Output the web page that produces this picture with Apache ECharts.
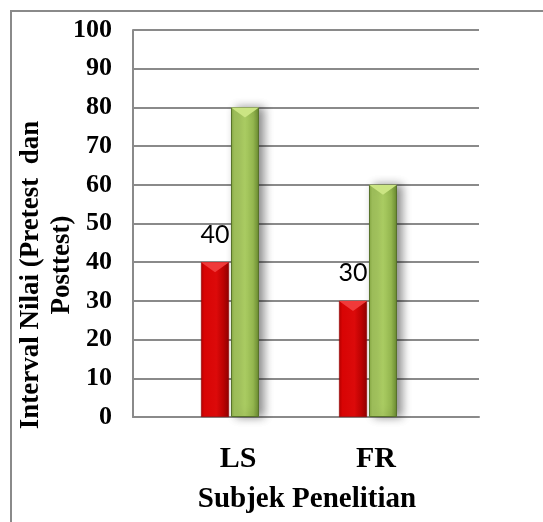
<!DOCTYPE html>
<html>
<head>
<meta charset="utf-8">
<script src="https://cdn.jsdelivr.net/npm/echarts@6/dist/echarts.min.js"></script>
<style>
  html, body { margin: 0; padding: 0; background: #fff; }
  #chart { width: 543px; height: 522px; }
</style>
</head>
<body>
<div id="chart"></div>
<script>
// Data
const categories = ['LS', 'FR'];
const pretest = [40, 30];
const posttest = [80, 60];
const yMin = 0, yMax = 100, yStep = 10;
const xTitle = 'Subjek Penelitian';
const yTitleLine1 = 'Interval Nilai (Pretest  dan';
const yTitleLine2 = 'Posttest)';

const SERIF = '"Liberation Serif", "Times New Roman", serif';
const GRAY = '#8a8a8a';
const BAR_W = 28;
const BAR_GAP = '7%';

const chart = echarts.init(document.getElementById('chart'), null, { renderer: 'canvas' });

const plotTop = 30, plotHeight = 387;

const redFill = new echarts.graphic.LinearGradient(0, 0, 1, 0, [
  { offset: 0, color: '#b30000' },
  { offset: 0.12, color: '#d80404' },
  { offset: 0.55, color: '#dc0a0a' },
  { offset: 0.8, color: '#bb0202' },
  { offset: 1, color: '#8e0000' }
]);
const greenFill = new echarts.graphic.LinearGradient(0, 0, 1, 0, [
  { offset: 0, color: '#86a843' },
  { offset: 0.12, color: '#a2c35d' },
  { offset: 0.5, color: '#abcd63' },
  { offset: 0.8, color: '#93b54e' },
  { offset: 1, color: '#6a8a30' }
]);

const valueAxisHidden = (gi) => ({
  type: 'value', gridIndex: gi, min: yMin, max: yMax, interval: yStep, show: false
});

chart.setOption({
  animation: false,
  backgroundColor: '#fff',
  graphic: [
    {
      type: 'rect', shape: { x: 11, y: 11, width: 600, height: 600 },
      style: { fill: 'none', stroke: GRAY, lineWidth: 2 }, silent: true
    },
    {
      type: 'text', x: 31, y: 275, rotation: Math.PI / 2,
      style: { text: yTitleLine1, font: 'bold 27px ' + SERIF, fill: '#000', textAlign: 'center', textVerticalAlign: 'middle' }
    },
    {
      type: 'text', x: 62, y: 265, rotation: Math.PI / 2,
      style: { text: yTitleLine2, font: 'bold 27px ' + SERIF, fill: '#000', textAlign: 'center', textVerticalAlign: 'middle' }
    }
  ],
  grid: [
    // frame: value axis, gridlines, baseline
    { left: 133, top: plotTop, width: 346, height: plotHeight },
    // bars
    { left: 161, top: plotTop, width: 276, height: plotHeight },
    // category labels and axis title
    { left: 169, top: plotTop, width: 276, height: plotHeight }
  ],
  xAxis: [
    {
      type: 'category', gridIndex: 0, data: categories,
      axisLine: { show: true, lineStyle: { color: GRAY, width: 2 } },
      axisTick: { show: false }, axisLabel: { show: false }, splitLine: { show: false }
    },
    {
      type: 'category', gridIndex: 1, data: categories, show: false
    },
    {
      type: 'category', gridIndex: 2, data: categories,
      axisLine: { show: false }, axisTick: { show: false },
      axisLabel: { margin: 27, fontFamily: SERIF, fontWeight: 'bold', fontSize: 30, color: '#000' },
      name: xTitle, nameLocation: 'middle', nameGap: 68,
      nameTextStyle: { fontFamily: SERIF, fontWeight: 'bold', fontSize: 29, color: '#000' }
    }
  ],
  yAxis: [
    {
      type: 'value', gridIndex: 0, min: yMin, max: yMax, interval: yStep,
      axisLine: { show: true, lineStyle: { color: GRAY, width: 2 } },
      axisTick: { show: false },
      axisLabel: { margin: 21, fontFamily: SERIF, fontWeight: 'bold', fontSize: 26, color: '#000' },
      splitLine: { show: true, lineStyle: { color: GRAY, width: 2 } }
    },
    valueAxisHidden(1),
    valueAxisHidden(2)
  ],
  series: [
    {
      name: 'Pretest', type: 'bar', xAxisIndex: 1, yAxisIndex: 1,
      data: pretest, barWidth: BAR_W, barGap: BAR_GAP, z: 3,
      itemStyle: { color: redFill, borderColor: '#8a0000', borderWidth: 0.6 },
      label: {
        show: true, position: 'top', distance: 15,
        fontFamily: 'Lato, "Open Sans", sans-serif', fontSize: 25, color: '#000'
      }
    },
    {
      name: 'Posttest', type: 'bar', xAxisIndex: 1, yAxisIndex: 1,
      data: posttest, barWidth: BAR_W, barGap: BAR_GAP, z: 2,
      itemStyle: {
        color: greenFill, borderColor: '#56712a', borderWidth: 1,
        shadowColor: 'rgba(0,0,0,0.45)', shadowBlur: 10, shadowOffsetX: 5
      }
    },
    {
      name: 'Pretest cap', type: 'pictorialBar', xAxisIndex: 1, yAxisIndex: 1,
      data: pretest, barWidth: BAR_W, barGap: BAR_GAP, z: 4,
      symbol: 'path://M0,0 L10,0 L5,4 Z', symbolSize: ['100%', 10],
      symbolPosition: 'end', itemStyle: { color: '#f03a3a' }, silent: true
    },
    {
      name: 'Posttest cap', type: 'pictorialBar', xAxisIndex: 1, yAxisIndex: 1,
      data: posttest, barWidth: BAR_W, barGap: BAR_GAP, z: 4,
      symbol: 'path://M0,0 L10,0 L5,4 Z', symbolSize: ['100%', 10],
      symbolPosition: 'end', itemStyle: { color: '#cbe583' }, silent: true
    }
  ]
});
</script>
</body>
</html>
